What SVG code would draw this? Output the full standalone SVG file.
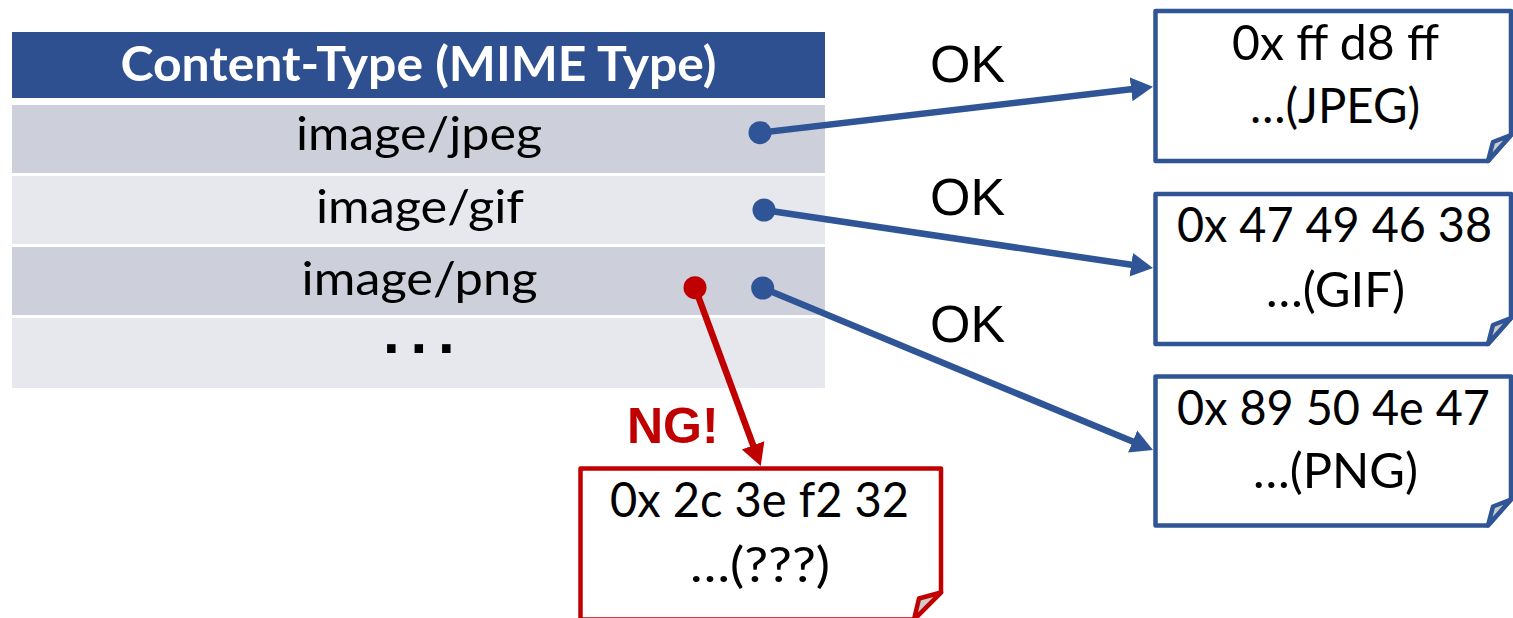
<svg xmlns="http://www.w3.org/2000/svg" width="1513" height="618" viewBox="0 0 1513 618">
  <style>
    .hdr { fill: #2E5090; }
    .rowA { fill: #CDD0DB; }
    .rowB { fill: #E7E8ED; }
    .hdrText { font-family: Lato, "Open Sans", sans-serif; font-weight: bold; font-size: 47px; fill: #FFFFFF; text-anchor: middle; }
    .cell { font-family: Lato, "Open Sans", sans-serif; font-size: 47px; fill: #000000; text-anchor: middle; }
    .dots { font-family: "Liberation Sans", Arial, sans-serif; font-weight: bold; font-size: 60px; fill: #000000; letter-spacing: 10.8px; }
    .ok { font-family: "Liberation Sans", Arial, sans-serif; font-size: 52px; fill: #000000; }
    .ng { font-family: "Liberation Sans", Arial, sans-serif; font-weight: bold; font-size: 50px; fill: #C00000; }
    .note { font-family: Lato, "Open Sans", sans-serif; font-size: 48px; fill: #000000; text-anchor: middle; }
    .okBox { fill: #FFFFFF; stroke: #2F5597; stroke-width: 4.5; stroke-linejoin: round; }
    .ngBox { fill: #FFFFFF; stroke: #C00000; stroke-width: 4.5; stroke-linejoin: round; }
    .foldOk { fill: #CCCCCC; stroke: #2F5597; stroke-width: 4.5; stroke-linejoin: round; }
    .foldNg { fill: #CCCCCC; stroke: #C00000; stroke-width: 4.5; stroke-linejoin: round; }
    .okLine { stroke: #2F5597; stroke-width: 6.5; fill: none; }
    .ngLine { stroke: #C00000; stroke-width: 6.5; fill: none; }
  </style>
  <defs>
    <marker id="headBlue" markerUnits="userSpaceOnUse" markerWidth="24" markerHeight="26" viewBox="0 -13 24 26" refX="2" refY="0" orient="auto">
      <path d="M0,-12 L22,0 L0,12 Z" fill="#2F5597"/>
    </marker>
    <marker id="headRed" markerUnits="userSpaceOnUse" markerWidth="24" markerHeight="26" viewBox="0 -13 24 26" refX="2" refY="0" orient="auto">
      <path d="M0,-12 L22,0 L0,12 Z" fill="#C00000"/>
    </marker>
  </defs>

  <!-- MIME type table -->
  <g id="mime-table">
    <rect class="hdr" x="12" y="32" width="813" height="66"/>
    <text class="hdrText" x="418.5" y="81" textLength="596" lengthAdjust="spacingAndGlyphs">Content-Type (MIME Type)</text>
    <rect class="rowA" x="12" y="105" width="813" height="68"/>
    <text class="cell" x="419" y="150" textLength="246" lengthAdjust="spacingAndGlyphs">image/jpeg</text>
    <rect class="rowB" x="12" y="176" width="813" height="68"/>
    <text class="cell" x="420" y="222.7" textLength="208" lengthAdjust="spacingAndGlyphs">image/gif</text>
    <rect class="rowA" x="12" y="247" width="813" height="68"/>
    <text class="cell" x="419.5" y="295" textLength="236" lengthAdjust="spacingAndGlyphs">image/png</text>
    <rect class="rowB" x="12" y="318" width="813" height="70"/>
    <text class="dots" x="383" y="353">...</text>
  </g>

  <!-- Connectors -->
  <g id="connectors">
    <circle cx="760" cy="132.7" r="11.5" fill="#2F5597"/>
    <line class="okLine" x1="760" y1="132.7" x2="1133.1" y2="89.0" marker-end="url(#headBlue)"/>
    <circle cx="764" cy="210" r="11.5" fill="#2F5597"/>
    <line class="okLine" x1="764" y1="210" x2="1133.2" y2="265.05" marker-end="url(#headBlue)"/>
    <circle cx="762.7" cy="288" r="11.5" fill="#2F5597"/>
    <line class="okLine" x1="762.7" y1="288" x2="1134.5" y2="442.3" marker-end="url(#headBlue)"/>
    <circle cx="695" cy="287.7" r="11.5" fill="#C00000"/>
    <line class="ngLine" x1="695" y1="287.7" x2="753.8" y2="447.2" marker-end="url(#headRed)"/>
    <text class="ok" x="930" y="82">OK</text>
    <text class="ok" x="930" y="215">OK</text>
    <text class="ok" x="930" y="342">OK</text>
    <text class="ng" x="627" y="443">NG!</text>
  </g>

  <!-- JPEG signature -->
  <g id="sig-jpeg">
    <path class="okBox" d="M1155.5,11 H1511 V135 L1488,161 H1155.5 Z"/>
    <path class="foldOk" d="M1488,161 L1511,135 L1493,142 Z"/>
    <text class="note" x="1335.5" y="60" textLength="207" lengthAdjust="spacingAndGlyphs">0x ff d8 ff</text>
    <text class="note" x="1335" y="122.5" textLength="170" lengthAdjust="spacingAndGlyphs">…(JPEG)</text>
  </g>

  <!-- GIF signature -->
  <g id="sig-gif">
    <path class="okBox" d="M1155.5,194 H1511 V318 L1488,344 H1155.5 Z"/>
    <path class="foldOk" d="M1488,344 L1511,318 L1493,325 Z"/>
    <text class="note" x="1334.5" y="241.7" textLength="315" lengthAdjust="spacingAndGlyphs">0x 47 49 46 38</text>
    <text class="note" x="1335.5" y="306.7" textLength="139" lengthAdjust="spacingAndGlyphs">…(GIF)</text>
  </g>

  <!-- PNG signature -->
  <g id="sig-png">
    <path class="okBox" d="M1155.5,376.5 H1511 V499.5 L1488,525.5 H1155.5 Z"/>
    <path class="foldOk" d="M1488,525.5 L1511,499.5 L1493,506.5 Z"/>
    <text class="note" x="1333.5" y="425" textLength="313" lengthAdjust="spacingAndGlyphs">0x 89 50 4e 47</text>
    <text class="note" x="1335.5" y="488" textLength="165" lengthAdjust="spacingAndGlyphs">…(PNG)</text>
  </g>

  <!-- Unknown signature -->
  <g id="sig-unknown">
    <path class="ngBox" d="M580.5,468.5 H941 V592.5 L914,619.5 H580.5 Z"/>
    <path class="foldNg" d="M914,619.5 L941,592.5 L919,598.5 Z"/>
    <text class="note" x="759.5" y="516.7" textLength="299" lengthAdjust="spacingAndGlyphs">0x 2c 3e f2 32</text>
    <text class="note" x="760" y="581.7" textLength="140" lengthAdjust="spacingAndGlyphs">…(???)</text>
  </g>
</svg>
